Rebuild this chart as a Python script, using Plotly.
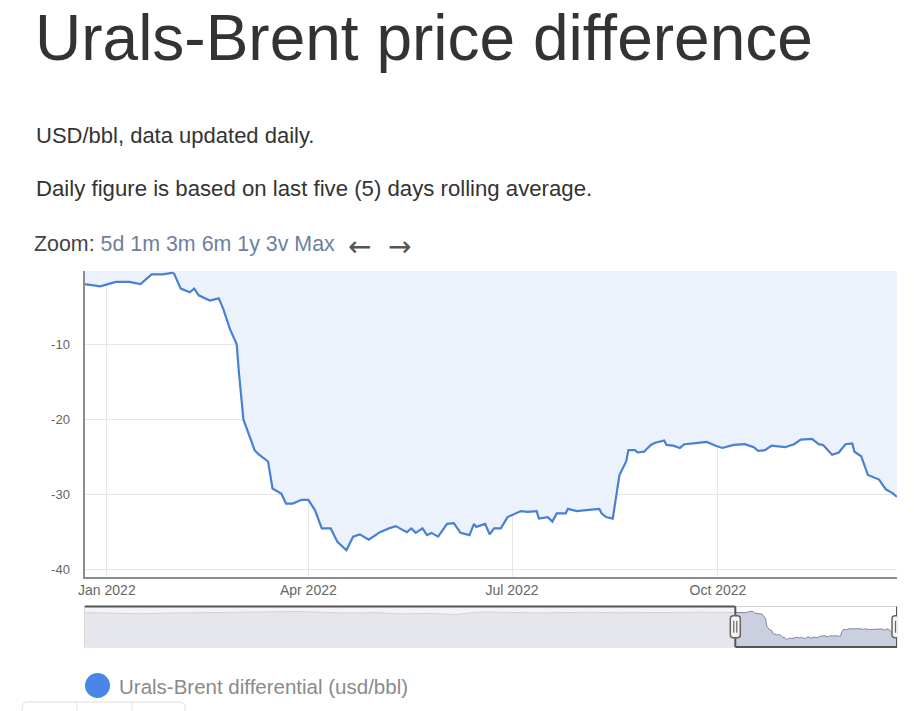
import plotly.graph_objects as go

# ---------------- data ----------------
dates = ["2021-12-22","2021-12-29","2022-01-05","2022-01-11","2022-01-16","2022-01-21","2022-01-26","2022-01-30","2022-01-31","2022-02-03",
         "2022-02-07","2022-02-09","2022-02-11","2022-02-16","2022-02-20","2022-02-22","2022-02-25","2022-02-28","2022-03-01","2022-03-03",
         "2022-03-08","2022-03-10","2022-03-14","2022-03-16","2022-03-20","2022-03-22","2022-03-25","2022-03-29","2022-04-01","2022-04-04",
         "2022-04-07","2022-04-11","2022-04-14","2022-04-18","2022-04-21","2022-04-24","2022-04-28","2022-05-03","2022-05-07","2022-05-10",
         "2022-05-15","2022-05-17","2022-05-19","2022-05-22","2022-05-24","2022-05-26","2022-05-29","2022-06-02","2022-06-05","2022-06-08",
         "2022-06-12","2022-06-14","2022-06-15","2022-06-19","2022-06-21","2022-06-23","2022-06-26","2022-06-29","2022-07-05","2022-07-08",
         "2022-07-12","2022-07-13","2022-07-17","2022-07-19","2022-07-21","2022-07-25","2022-07-26","2022-07-30","2022-08-02","2022-08-09",
         "2022-08-10","2022-08-12","2022-08-15","2022-08-18","2022-08-21","2022-08-22","2022-08-25","2022-08-26","2022-08-29","2022-09-01",
         "2022-09-03","2022-09-07","2022-09-08","2022-09-11","2022-09-14","2022-09-16","2022-09-20","2022-09-26","2022-09-30","2022-10-03",
         "2022-10-08","2022-10-13","2022-10-17","2022-10-19","2022-10-22","2022-10-25","2022-10-31","2022-11-04","2022-11-07","2022-11-12",
         "2022-11-15","2022-11-17","2022-11-21","2022-11-24","2022-11-27","2022-11-30","2022-12-01","2022-12-04","2022-12-07","2022-12-12",
         "2022-12-15","2022-12-18","2022-12-20"]
values = [-2.0,-2.3,-1.7,-1.7,-2.0,-0.7,-0.7,-0.5,-0.6,-2.6,
          -3.1,-2.6,-3.5,-4.2,-3.9,-5.3,-8.0,-10.0,-13.8,-20.0,
          -24.1,-24.7,-25.6,-29.2,-29.9,-31.2,-31.2,-30.7,-30.7,-32.1,
          -34.5,-34.5,-36.3,-37.4,-35.6,-35.3,-36.0,-35.0,-34.5,-34.2,
          -35.0,-34.5,-35.1,-34.5,-35.4,-35.1,-35.6,-33.9,-33.8,-35.1,
          -35.4,-33.9,-34.3,-33.9,-35.3,-34.5,-34.5,-33.0,-32.2,-32.3,
          -32.2,-33.2,-33.0,-33.6,-32.5,-32.5,-31.9,-32.2,-32.1,-31.9,
          -32.5,-33.0,-33.2,-27.4,-25.6,-24.1,-24.1,-24.4,-24.3,-23.4,
          -23.1,-22.8,-23.4,-23.5,-23.8,-23.3,-23.2,-23.0,-23.5,-23.8,
          -23.4,-23.3,-23.7,-24.2,-24.1,-23.5,-23.7,-23.3,-22.7,-22.6,
          -23.3,-23.4,-24.7,-24.4,-23.3,-23.2,-24.3,-24.9,-27.4,-28.0,
          -29.3,-29.8,-30.3]

# earlier history shown only in the navigator (estimated)
hist_dates = ["2017-12-22","2018-02-15","2018-04-20","2018-06-15","2018-08-15","2018-10-15","2018-12-20",
              "2019-02-15","2019-04-15","2019-06-15","2019-08-10","2019-10-10","2019-12-01","2020-02-01",
              "2020-04-01","2020-06-01","2020-08-01","2020-10-01","2020-12-01","2021-02-01","2021-04-01",
              "2021-06-01","2021-08-01","2021-10-01","2021-12-01"]
hist_values = [-2.0,-2.5,-3.5,-2.8,-2.2,-1.5,-0.8,-1.2,-0.5,-1.8,-2.6,-2.0,-3.8,-3.0,
               -4.5,-1.0,-1.5,-2.5,-2.0,-1.5,-2.2,-1.6,-1.8,-1.4,-1.9]

y_ticks = [-10, -20, -30, -40]
y_range = [-40.9, -0.26]
nav_y_range = [-47, 6]

title = "Urals-Brent price difference"
sub1 = "USD/bbl, data updated daily."
sub2 = "Daily figure is based on last five (5) days rolling average."
zoom_label = "Zoom:"
zoom_buttons = ["5d", "1m", "3m", "6m", "1y", "3v", "Max"]
series_name = "Urals-Brent differential (usd/bbl)"

# ---------------- layout helpers ----------------
W, H = 914, 711
FONT = "Liberation Sans, Arial, Helvetica, sans-serif"
def px(x): return x / W
def py(y): return 1 - y / H

LINE = "#4a7fd6"
FILL = "#ebf2fc"

nav_x = hist_dates + dates
nav_y = hist_values + values
sel_start, sel_end = dates[0], dates[-1]

fig = go.Figure()
fig.add_trace(go.Scatter(x=dates, y=values, mode="lines", line=dict(color=LINE, width=2.2),
                         fill="tozeroy", fillcolor=FILL, xaxis="x", yaxis="y",
                         name=series_name, showlegend=False, hoverinfo="x+y"))
# navigator
fig.add_trace(go.Scatter(x=[nav_x[0], nav_x[-1]], y=[nav_y_range[0]] * 2, mode="lines",
                         line=dict(width=0, color="rgba(0,0,0,0)"), xaxis="x2", yaxis="y2",
                         showlegend=False, hoverinfo="skip"))
fig.add_trace(go.Scatter(x=nav_x, y=nav_y, mode="lines", line=dict(color="#7d88a0", width=1),
                         fill="tonexty", fillcolor="rgba(150,162,190,0.5)", xaxis="x2", yaxis="y2",
                         showlegend=False, hoverinfo="skip"))

shapes = []
# navigator border
shapes.append(dict(type="rect", xref="x2 domain", yref="y2 domain", x0=0, x1=1, y0=0, y1=1,
                   line=dict(color="#d4d4d8", width=1), fillcolor="rgba(0,0,0,0)", layer="above"))
# mask over unselected part
shapes.append(dict(type="rect", xref="x2", yref="y2 domain", x0=nav_x[0], x1=sel_start, y0=0, y1=1,
                   line=dict(width=0), fillcolor="rgba(240,240,243,0.72)", layer="above"))
# outline
OUT = dict(color="#555555", width=2)
shapes.append(dict(type="line", xref="x2", yref="y2 domain", x0=nav_x[0], x1=sel_start, y0=1, y1=1, line=OUT, layer="above"))
shapes.append(dict(type="line", xref="x2", yref="y2 domain", x0=sel_start, x1=sel_start, y0=1, y1=0, line=OUT, layer="above"))
shapes.append(dict(type="line", xref="x2", yref="y2 domain", x0=sel_start, x1=sel_end, y0=0, y1=0, line=OUT, layer="above"))
shapes.append(dict(type="line", xref="x2", yref="y2 domain", x0=sel_end, x1=sel_end, y0=0, y1=1, line=OUT, layer="above"))
# handles
ymid = (nav_y_range[0] + nav_y_range[1]) / 2
handle_path = "M -5,-8 Q -5,-11 -2,-11 L 2,-11 Q 5,-11 5,-8 L 5,8 Q 5,11 2,11 L -2,11 Q -5,11 -5,8 Z"
for xa in (sel_start, sel_end):
    shapes.append(dict(type="path", xref="x2", yref="y2", xsizemode="pixel", ysizemode="pixel",
                       xanchor=xa, yanchor=ymid, path=handle_path,
                       fillcolor="#f4f4f4", line=dict(color="#666666", width=1.5), layer="above"))
    shapes.append(dict(type="path", xref="x2", yref="y2", xsizemode="pixel", ysizemode="pixel",
                       xanchor=xa, yanchor=ymid, path="M -1.5,-6 L -1.5,6 M 1.5,-6 L 1.5,6",
                       line=dict(color="#666666", width=1.2), layer="above"))
# legend symbol
shapes.append(dict(type="circle", xref="paper", yref="paper", x0=px(85), x1=px(110), y0=py(698), y1=py(673),
                   fillcolor="#4a86e8", line=dict(width=0)))
# partial widget box at bottom-left
def pp(x, y): return f"{px(x):.5f},{py(y):.5f}"
shapes.append(dict(type="path", xref="paper", yref="paper",
                   path=f"M {pp(22,715)} L {pp(22,708)} Q {pp(22,702)} {pp(28,702)} L {pp(179,702)} Q {pp(185,702)} {pp(185,708)} L {pp(185,715)}",
                   line=dict(color="#dedede", width=1), fillcolor="rgba(0,0,0,0)"))
for xd in (77, 132):
    shapes.append(dict(type="line", xref="paper", yref="paper", x0=px(xd), x1=px(xd), y0=py(702), y1=py(715),
                       line=dict(color="#e2e2e2", width=1)))

ARROWFONT = "DejaVu Sans, Liberation Sans, sans-serif"
annotations = [
    dict(text=title, x=px(33), y=py(0), xanchor="left", yanchor="top",
         font=dict(size=64, color="#333333", family=FONT)),
    dict(text=sub1, x=px(34), y=py(135), xanchor="left", yanchor="middle",
         font=dict(size=22, color="#333333", family=FONT)),
    dict(text=sub2, x=px(34), y=py(189), xanchor="left", yanchor="middle",
         font=dict(size=22.2, color="#333333", family=FONT)),
    dict(text=zoom_label + ' <span style="color:#6e7f9d">' + " ".join(zoom_buttons) + "</span>",
         x=px(32), y=py(244), xanchor="left", yanchor="middle",
         font=dict(size=21.4, color="#444444", family=FONT)),
    dict(text="←", x=px(359), y=py(246), xanchor="center", yanchor="middle",
         font=dict(size=28, color="#555555", family=ARROWFONT)),
    dict(text="→", x=px(399), y=py(246), xanchor="center", yanchor="middle",
         font=dict(size=28, color="#555555", family=ARROWFONT)),
    dict(text=series_name, x=px(117), y=py(686), xanchor="left", yanchor="middle",
         font=dict(size=20.5, color="#8a8a8a", family=FONT)),
]
for a in annotations:
    a.update(xref="paper", yref="paper", showarrow=False)

fig.update_layout(
    width=W, height=H, margin=dict(l=0, r=0, t=0, b=0),
    paper_bgcolor="white", plot_bgcolor="white",
    font=dict(family=FONT),
    showlegend=False,
    xaxis=dict(domain=[px(84.5), px(897)], type="date", range=[dates[0], dates[-1]],
               tick0="2022-01-01", dtick="M3", tickformat="%b %Y",
               showgrid=True, gridcolor="#e6e6e6", gridwidth=1,
               showline=True, linecolor="#8c8c8c", linewidth=2, ticks="",
               tickfont=dict(size=14, color="#666666"), automargin=False, fixedrange=True),
    yaxis=dict(domain=[py(576.5), py(271)], range=y_range, tickvals=y_ticks,
               ticktext=[str(v) for v in y_ticks],
               showgrid=True, gridcolor="#e6e6e6", gridwidth=1, zeroline=False,
               showline=True, linecolor="#8c8c8c", linewidth=2, ticks="",
               ticklabelstandoff=10,
               tickfont=dict(size=13, color="#666666"), automargin=False, fixedrange=True),
    xaxis2=dict(domain=[px(84.5), px(897)], type="date", range=[nav_x[0], nav_x[-1]],
                visible=False, anchor="y2", fixedrange=True),
    yaxis2=dict(domain=[py(647), py(606.5)], range=nav_y_range, visible=False, anchor="x2", fixedrange=True),
    shapes=shapes, annotations=annotations,
)

fig.write_html("out.html", config={"displayModeBar": False})
